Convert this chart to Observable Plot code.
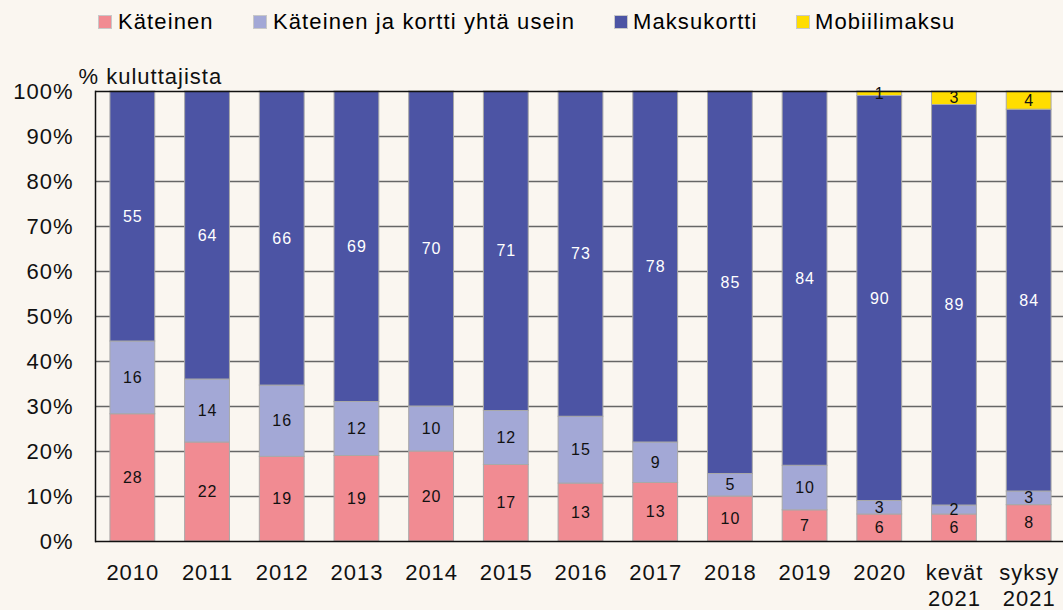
<!DOCTYPE html>
<html><head><meta charset="utf-8">
<script src="https://cdn.jsdelivr.net/npm/d3@7"></script>
<script src="https://cdn.jsdelivr.net/npm/@observablehq/plot@0.6"></script>
<style>
body{margin:0;background:#FAF6F0;font-family:"Liberation Sans",Arial,sans-serif;}
#legend{position:relative;height:45px;width:1063px;}
.item{position:absolute;top:10px;font-size:22px;letter-spacing:1.1px;line-height:24px;color:#000;white-space:nowrap;}
.sw{position:absolute;top:15px;width:14px;height:14px;border:1px solid #c8c8c8;box-sizing:border-box;}
#chart svg{display:block;}
</style>
</head><body>
<div id="legend"></div>
<div id="chart"></div>
<script>
const categories = ["2010","2011","2012","2013","2014","2015","2016","2017","2018","2019","2020","kevät\n2021","syksy\n2021"];
const kateinen    = [28,22,19,19,20,17,13,13,10,7,6,6,8];
const molemmat    = [16,14,16,12,10,12,15,9,5,10,3,2,3];
const maksukortti = [55,64,66,69,70,71,73,78,85,84,90,89,84];
const mobiili     = [0,0,0,0,0,0,0,0,0,0,1,3,4];
const seriesNames = ["Käteinen","Käteinen ja kortti yhtä usein","Maksukortti","Mobiilimaksu"];
const seriesColors = ["#F18B92","#A3A8D6","#4C54A4","#FFDD00"];
const yTicks = [0,0.1,0.2,0.3,0.4,0.5,0.6,0.7,0.8,0.9,1];
const yTitle = "% kuluttajista";

const seriesValues = [kateinen, molemmat, maksukortti, mobiili];
const data = [];
categories.forEach((c, i) => {
  seriesNames.forEach((s, j) => {
    data.push({cat: c, series: s, value: seriesValues[j][i]});
  });
});

// legend
const legendPos = [[98,118],[253,273],[614,633],[796,815]];
const legend = document.getElementById("legend");
seriesNames.forEach((s, j) => {
  const sw = document.createElement("div");
  sw.className = "sw"; sw.style.left = legendPos[j][0] + "px"; sw.style.background = seriesColors[j];
  legend.appendChild(sw);
  const t = document.createElement("div");
  t.className = "item"; t.style.left = legendPos[j][1] + "px"; t.textContent = s;
  legend.appendChild(t);
});

const font = "'Liberation Sans', Arial, sans-serif";
const stackOpts = {x: "cat", y: "value", z: "series", order: seriesNames, offset: "normalize"};

const chart = Plot.plot({
  width: 1063,
  height: 565,
  marginTop: 46,
  marginBottom: 69,
  marginLeft: 95,
  marginRight: 0,
  style: {background: "#FAF6F0", fontFamily: font, color: "#000", overflow: "visible", letterSpacing: "1px"},
  x: {type: "band", domain: categories, range: [95, 1066], paddingInner: 0.4, paddingOuter: 0.2, round: false, label: null},
  y: {domain: [0, 1], label: null},
  color: {domain: seriesNames, range: seriesColors},
  marks: [
    Plot.ruleY(yTicks.filter(d => d > 0 && d < 1), {stroke: "#666", strokeWidth: 1.4}),
    Plot.barY(data, Plot.stackY({...stackOpts, fill: "series", stroke: "#a8a8a8", strokeWidth: 1, inset: 0})),
    Plot.ruleY([0, 1], {stroke: "#111", strokeWidth: 1.5}),
    Plot.frame({anchor: "left", stroke: "#111", strokeWidth: 1.5}),
    Plot.text(data, Plot.stackY({...stackOpts,
      text: d => (d.series !== "Maksukortti" && d.value > 0) ? String(d.value) : "",
      fill: "#111", fontSize: 16, letterSpacing: 0.5})),
    Plot.text(data, Plot.stackY({...stackOpts,
      text: d => d.series === "Maksukortti" ? String(d.value) : "",
      fill: "white", fontSize: 16, letterSpacing: 0.5})),
    Plot.axisY({ticks: yTicks, tickFormat: d => Math.round(d * 100) + "%", tickSize: 0, tickPadding: 22,
      fontSize: 22, fill: "#111", label: null}),
    Plot.axisX({tickSize: 0, tickPadding: 20, fontSize: 22, fill: "#111",
      lineAnchor: "top", lineHeight: 1.18, label: null}),
    Plot.text([yTitle], {frameAnchor: "top-left", dx: -17, dy: -8, textAnchor: "start", lineAnchor: "bottom",
      fontSize: 22, fill: "#111"})
  ]
});
document.getElementById("chart").appendChild(chart);
</script>
</body></html>
